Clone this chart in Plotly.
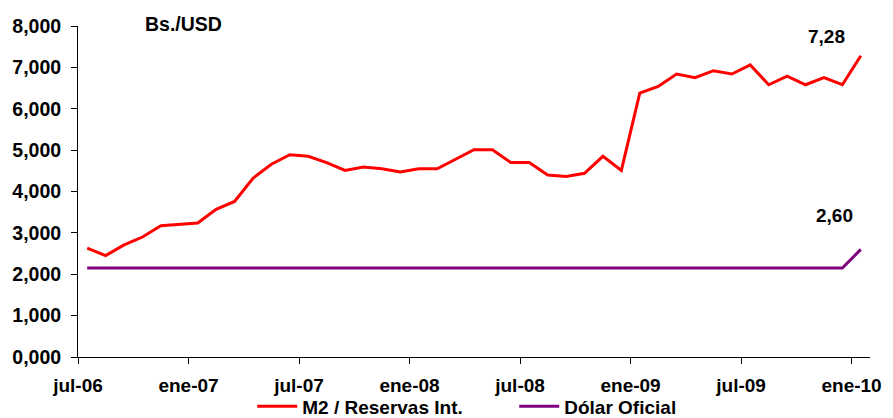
import plotly.graph_objects as go

months = ["jul-06","ago-06","sep-06","oct-06","nov-06","dic-06",
          "ene-07","feb-07","mar-07","abr-07","may-07","jun-07",
          "jul-07","ago-07","sep-07","oct-07","nov-07","dic-07",
          "ene-08","feb-08","mar-08","abr-08","may-08","jun-08",
          "jul-08","ago-08","sep-08","oct-08","nov-08","dic-08",
          "ene-09","feb-09","mar-09","abr-09","may-09","jun-09",
          "jul-09","ago-09","sep-09","oct-09","nov-09","dic-09",
          "ene-10"]

m2_reservas = [2.63, 2.45, 2.71, 2.90, 3.17, 3.20, 3.24, 3.57, 3.76, 4.32,
               4.66, 4.89, 4.85, 4.70, 4.51, 4.59, 4.55, 4.47, 4.55, 4.55,
               4.77, 5.01, 5.01, 4.70, 4.70, 4.40, 4.36, 4.44, 4.85, 4.51,
               6.38, 6.54, 6.84, 6.75, 6.92, 6.84, 7.06, 6.58, 6.79, 6.58,
               6.75, 6.58, 7.28]

dolar_oficial = [2.15] * 42 + [2.60]

tick_labels = ["jul-06", "ene-07", "jul-07", "ene-08", "jul-08", "ene-09", "jul-09", "ene-10"]

x = list(range(len(months)))
tick_positions = [months.index(t) - 0.5 for t in tick_labels]

FONT = "Liberation Sans, Arial, sans-serif"

fig = go.Figure()
fig.add_trace(go.Scatter(x=x, y=m2_reservas, mode="lines", name="<b>M2 / Reservas Int.</b>",
                         line=dict(color="#FF0000", width=3)))
fig.add_trace(go.Scatter(x=x, y=dolar_oficial, mode="lines", name="<b>Dólar Oficial</b>",
                         line=dict(color="#800080", width=3)))

def fmt(v):
    return f"<b>{v:.2f}</b>".replace(".", ",")

fig.add_annotation(x=x[-1], y=m2_reservas[-1], text=fmt(m2_reservas[-1]), showarrow=False,
                   xanchor="center", yanchor="middle", xshift=-34, yshift=19,
                   font=dict(family=FONT, size=19, color="black"))
fig.add_annotation(x=x[-1], y=dolar_oficial[-1], text=fmt(dolar_oficial[-1]), showarrow=False,
                   xanchor="center", yanchor="middle", xshift=-26, yshift=34,
                   font=dict(family=FONT, size=19, color="black"))
fig.add_annotation(xref="paper", yref="paper", x=(143 - 78) / 792, y=1.0, text="<b>Bs./USD</b>",
                   showarrow=False, xanchor="left", yanchor="middle", yshift=2,
                   font=dict(family=FONT, size=19.5, color="black"))

fig.update_layout(
    width=893, height=418,
    margin=dict(l=78, r=23, t=26, b=61, autoexpand=False),
    paper_bgcolor="white", plot_bgcolor="white",
    separators=", ",
    font=dict(family=FONT, size=18, color="black"),
    showlegend=True,
    legend=dict(orientation="h", x=0.22, xanchor="left", y=-0.149, yanchor="middle",
                bgcolor="rgba(0,0,0,0)",
                font=dict(family=FONT, size=19, color="black"),
                itemwidth=40, tracegroupgap=0, entrywidth=207, entrywidthmode="pixels"),
    xaxis=dict(range=[-0.5, len(months) - 0.5], tickmode="array",
               tickvals=tick_positions, ticktext=[f"<b>{t}</b>" for t in tick_labels],
               showline=True, linecolor="black", linewidth=1,
               ticks="outside", ticklen=6, tickcolor="black", automargin=False,
               ticklabelstandoff=5,
               showgrid=False, zeroline=False, tickfont=dict(size=19)),
    yaxis=dict(range=[0, 8], dtick=1, tickformat=".3f",
               showline=True, linecolor="black", linewidth=1,
               ticks="outside", ticklen=6, tickcolor="black", automargin=False,
               ticklabelstandoff=6,
               showgrid=False, zeroline=False, tickfont=dict(size=19.5),
               tickprefix="<b>", ticksuffix="</b>"),
)

fig.write_html("out.html", config={"displayModeBar": False},
               post_script="document.body.style.margin='0px';")
